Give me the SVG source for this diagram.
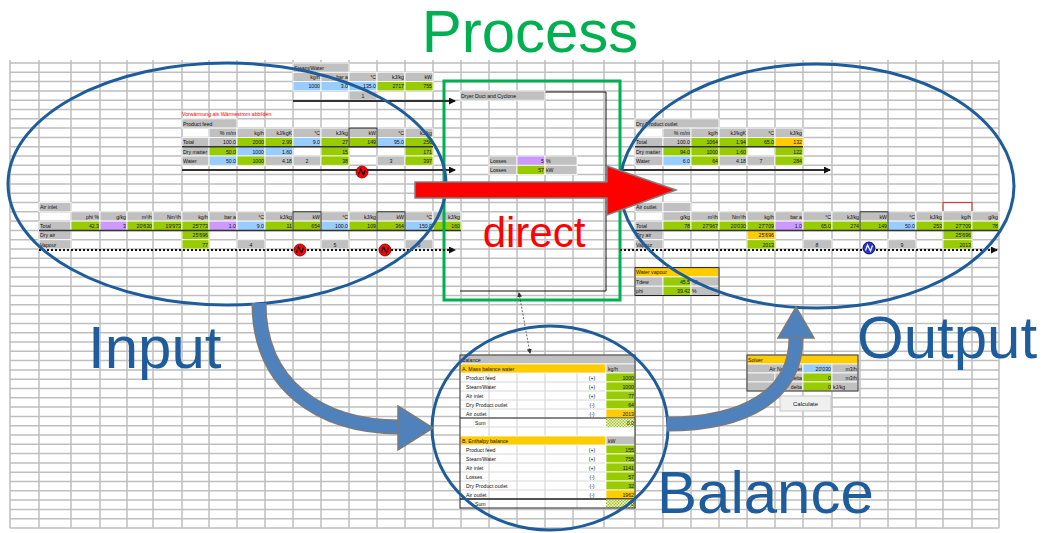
<svg xmlns="http://www.w3.org/2000/svg" xmlns:xlink="http://www.w3.org/1999/xlink" width="1048" height="533" viewBox="0 0 1048 533">
<style>
text{font-family:"Liberation Sans",Arial,sans-serif}
.t{font-size:5.2px;fill:#111}
.tr{font-size:5.2px;fill:#111;text-anchor:end}
.tc{font-size:5.2px;fill:#111;text-anchor:middle}
.red{fill:#ff0000}
rect.g{fill:#c0c0c0;stroke:#fff;stroke-width:.8}
rect.gr{fill:#99cc00;stroke:#fff;stroke-width:.8}
rect.bl{fill:#99ccff;stroke:#fff;stroke-width:.8}
rect.pu{fill:#cc99ff;stroke:#fff;stroke-width:.8}
rect.or{fill:#ffcc00;stroke:#fff;stroke-width:.8}
rect.w{fill:#fff;stroke:none}
.bd{fill:none;stroke:#222;stroke-width:1}
.thick{stroke:#333;stroke-width:1.5;fill:none}
.flow{stroke:#333;stroke-width:2;fill:none;marker-end:url(#ah)}
.dots{stroke:#111;stroke-width:1.8;stroke-dasharray:2 2;fill:none;marker-end:url(#ah)}
.grid{stroke:#bfbfbf;stroke-width:1.5;fill:none}
.ell{fill:none;stroke:#1f5c9c;stroke-width:3}
.lbl{font-size:60px;fill:#1f5c9c}
.shaft-o{fill:none;stroke:#7a7a7a;stroke-width:15}
.shaft{fill:none;stroke:#4f81bd;stroke-width:12}
.head{fill:#4f81bd;stroke:#7a7a7a;stroke-width:1.5}
</style>
<defs>
<marker id="ah" markerUnits="userSpaceOnUse" markerWidth="7" markerHeight="7" refX="6" refY="3.5" orient="auto"><path d="M0,0 L7,3.5 L0,7 z" fill="#111"/></marker>
<marker id="sa" markerUnits="userSpaceOnUse" markerWidth="5" markerHeight="5" refX="4" refY="2.5" orient="auto-start-reverse"><path d="M0,0 L5,2.5 L0,5 z" fill="#333"/></marker>
<g id="heat-r"><circle r="6" fill="#ff0000" stroke="#700" stroke-width=".8"/><path d="M-3.5,2.5 L-1.5,-3 L1.5,3 L3.5,-2.5" stroke="#000" stroke-width="1.2" fill="none"/></g>
<g id="heat-b"><circle r="6" fill="#2233dd" stroke="#001" stroke-width=".8"/><path d="M-3.5,2.5 L-1.5,-3 L1.5,3 L3.5,-2.5" stroke="#fff" stroke-width="1.2" fill="none"/></g>
<pattern id="hatch" width="3" height="3" patternUnits="userSpaceOnUse"><rect width="3" height="3" fill="#99cc00"/><rect width="1.5" height="1.5" fill="#fff"/><rect x="1.5" y="1.5" width="1.5" height="1.5" fill="#fff"/></pattern>
</defs>
<rect width="1048" height="533" fill="#fff"/>

<g id="grid">
<path class="grid" d="M10 60V528M39 60V528M71 60V528M100 60V528M127 60V528M153 60V528M182 60V528M209 60V528M237 60V528M265 60V528M293 60V528M321 60V528M349 60V528M377 60V528M405 60V528M433 60V528M461 60V528M489 60V528M517 60V528M545 60V528M573 60V528M604 60V528M635 60V528M663 60V528M691 60V528M719 60V528M747 60V528M775 60V528M803 60V528M832 60V528M860 60V528M888 60V528M916 60V528M943 60V528M972 60V528M999 60V528"/>
<path class="grid" d="M10 63H999M10 72.3H999M10 81.6H999M10 90.9H999M10 100.2H999M10 109.5H999M10 118.8H999M10 128.1H999M10 137.4H999M10 146.7H999M10 156H999M10 165.3H999M10 174.6H999M10 183.9H999M10 193.2H999M10 202.5H999M10 211.8H999M10 221.1H999M10 230.4H999M10 239.7H999M10 249H999M10 258.3H999M10 267.6H999M10 276.9H999M10 286.2H999M10 295.5H999M10 304.8H999M10 314.1H999M10 323.4H999M10 332.7H999M10 342H999M10 351.3H999M10 360.6H999M10 369.9H999M10 379.2H999M10 388.5H999M10 397.8H999M10 407.1H999M10 416.4H999M10 425.7H999M10 435H999M10 444.3H999M10 453.6H999M10 462.9H999M10 472.2H999M10 481.5H999M10 490.8H999M10 500.1H999M10 509.4H999M10 518.7H999M10 528H999"/>
</g>

<g id="steam-water">
<rect class="g" x="293" y="63" width="56" height="9.3"/><text class="t" x="294" y="69.8">Steam/Water</text>
<rect class="g" x="293" y="72.3" width="28" height="9.3"/><text class="tr" x="320" y="79.1">kg/h</text>
<rect class="g" x="321" y="72.3" width="28" height="9.3"/><text class="tr" x="348" y="79.1">bar a</text>
<rect class="g" x="349" y="72.3" width="28" height="9.3"/><text class="tr" x="376" y="79.1">°C</text>
<rect class="g" x="377" y="72.3" width="28" height="9.3"/><text class="tr" x="404" y="79.1">kJ/kg</text>
<rect class="g" x="405" y="72.3" width="28" height="9.3"/><text class="tr" x="432" y="79.1">kW</text>
<rect class="bl" x="293" y="81.6" width="28" height="9.3"/><text class="tr" x="320" y="88.4">1000</text>
<rect class="bl" x="321" y="81.6" width="28" height="9.3"/><text class="tr" x="348" y="88.4">3.0</text>
<rect class="bl" x="349" y="81.6" width="28" height="9.3"/><text class="tr" x="376" y="88.4">135.0</text>
<rect class="gr" x="377" y="81.6" width="28" height="9.3"/><text class="tr" x="404" y="88.4">2717</text>
<rect class="gr" x="405" y="81.6" width="28" height="9.3"/><text class="tr" x="432" y="88.4">755</text>
<rect class="g" x="349" y="90.9" width="28" height="9.3"/><text class="tc" x="363" y="97.7">1</text>
</g>

<g id="product-feed">
<text class="t red" x="182" y="116">Vorwärmung als Wärmestrom abbilden</text>
<rect class="g" x="182" y="118.8" width="55" height="9.3"/><text class="t" x="183" y="125.6">Product feed</text>
<rect class="g" x="209" y="128.1" width="28" height="9.3"/><text class="tr" x="236" y="134.9">% m/m</text>
<rect class="g" x="237" y="128.1" width="28" height="9.3"/><text class="tr" x="264" y="134.9">kg/h</text>
<rect class="g" x="265" y="128.1" width="28" height="9.3"/><text class="tr" x="292" y="134.9">kJ/kgK</text>
<rect class="g" x="293" y="128.1" width="28" height="9.3"/><text class="tr" x="320" y="134.9">°C</text>
<rect class="g" x="321" y="128.1" width="28" height="9.3"/><text class="tr" x="348" y="134.9">kJ/kg</text>
<rect class="g" x="349" y="128.1" width="28" height="9.3"/><text class="tr" x="376" y="134.9">kW</text>
<rect class="g" x="377" y="128.1" width="28" height="9.3"/><text class="tr" x="404" y="134.9">°C</text>
<rect class="g" x="405" y="128.1" width="28" height="9.3"/><text class="tr" x="432" y="134.9">kJ/kg</text>
<rect class="g" x="182" y="137.4" width="27" height="9.3"/><text class="t" x="183" y="144.2">Total</text>
<rect class="g" x="209" y="137.4" width="28" height="9.3"/><text class="tr" x="236" y="144.2">100.0</text>
<rect class="gr" x="237" y="137.4" width="28" height="9.3"/><text class="tr" x="264" y="144.2">2000</text>
<rect class="gr" x="265" y="137.4" width="28" height="9.3"/><text class="tr" x="292" y="144.2">2.99</text>
<rect class="bl" x="293" y="137.4" width="28" height="9.3"/><text class="tr" x="320" y="144.2">9.0</text>
<rect class="gr" x="321" y="137.4" width="28" height="9.3"/><text class="tr" x="348" y="144.2">27</text>
<rect class="gr" x="349" y="137.4" width="28" height="9.3"/><text class="tr" x="376" y="144.2">149</text>
<rect class="bl" x="377" y="137.4" width="28" height="9.3"/><text class="tr" x="404" y="144.2">95.0</text>
<rect class="gr" x="405" y="137.4" width="28" height="9.3"/><text class="tr" x="432" y="144.2">256</text>
<rect class="g" x="182" y="146.7" width="27" height="9.3"/><text class="t" x="183" y="153.5">Dry matter</text>
<rect class="gr" x="209" y="146.7" width="28" height="9.3"/><text class="tr" x="236" y="153.5">50.0</text>
<rect class="bl" x="237" y="146.7" width="28" height="9.3"/><text class="tr" x="264" y="153.5">1000</text>
<rect class="bl" x="265" y="146.7" width="28" height="9.3"/><text class="tr" x="292" y="153.5">1.60</text>
<rect class="gr" x="321" y="146.7" width="28" height="9.3"/><text class="tr" x="348" y="153.5">15</text>
<rect class="gr" x="405" y="146.7" width="28" height="9.3"/><text class="tr" x="432" y="153.5">171</text>
<rect class="g" x="182" y="156" width="27" height="9.3"/><text class="t" x="183" y="162.8">Water</text>
<rect class="bl" x="209" y="156" width="28" height="9.3"/><text class="tr" x="236" y="162.8">50.0</text>
<rect class="gr" x="237" y="156" width="28" height="9.3"/><text class="tr" x="264" y="162.8">1000</text>
<rect class="g" x="265" y="156" width="28" height="9.3"/><text class="tr" x="292" y="162.8">4.18</text>
<rect class="g" x="293" y="156" width="28" height="9.3"/><text class="tc" x="307" y="162.8">2</text>
<rect class="gr" x="321" y="156" width="28" height="9.3"/><text class="tr" x="348" y="162.8">38</text>
<rect class="g" x="377" y="156" width="28" height="9.3"/><text class="tc" x="391" y="162.8">3</text>
<rect class="gr" x="405" y="156" width="28" height="9.3"/><text class="tr" x="432" y="162.8">397</text>
<rect class="bd" x="349" y="128.1" width="28" height="18.6"/>
<path class="thick" d="M182 146.7H433"/>
</g>

<g id="air-inlet">
<rect class="g" x="39" y="202.5" width="32" height="9.3"/><text class="t" x="40" y="209.3">Air inlet</text>
<rect class="g" x="71" y="211.8" width="29" height="9.3"/><text class="tr" x="99" y="218.6">phi %</text>
<rect class="g" x="100" y="211.8" width="27" height="9.3"/><text class="tr" x="126" y="218.6">g/kg</text>
<rect class="g" x="127" y="211.8" width="26" height="9.3"/><text class="tr" x="152" y="218.6">m³/h</text>
<rect class="g" x="153" y="211.8" width="29" height="9.3"/><text class="tr" x="181" y="218.6">Nm³/h</text>
<rect class="g" x="182" y="211.8" width="27" height="9.3"/><text class="tr" x="208" y="218.6">kg/h</text>
<rect class="g" x="209" y="211.8" width="28" height="9.3"/><text class="tr" x="236" y="218.6">bar a</text>
<rect class="g" x="237" y="211.8" width="28" height="9.3"/><text class="tr" x="264" y="218.6">°C</text>
<rect class="g" x="265" y="211.8" width="28" height="9.3"/><text class="tr" x="292" y="218.6">kJ/kg</text>
<rect class="g" x="293" y="211.8" width="28" height="9.3"/><text class="tr" x="320" y="218.6">kW</text>
<rect class="g" x="321" y="211.8" width="28" height="9.3"/><text class="tr" x="348" y="218.6">°C</text>
<rect class="g" x="349" y="211.8" width="28" height="9.3"/><text class="tr" x="376" y="218.6">kJ/kg</text>
<rect class="g" x="377" y="211.8" width="28" height="9.3"/><text class="tr" x="404" y="218.6">kW</text>
<rect class="g" x="405" y="211.8" width="28" height="9.3"/><text class="tr" x="432" y="218.6">°C</text>
<rect class="g" x="433" y="211.8" width="28" height="9.3"/><text class="tr" x="460" y="218.6">kJ/kg</text>
<rect class="g" x="39" y="221.1" width="32" height="9.3"/><text class="t" x="40" y="227.9">Total</text>
<rect class="gr" x="71" y="221.1" width="29" height="9.3"/><text class="tr" x="99" y="227.9">42.3</text>
<rect class="pu" x="100" y="221.1" width="27" height="9.3"/><text class="tr" x="126" y="227.9">3</text>
<rect class="gr" x="127" y="221.1" width="26" height="9.3"/><text class="tr" x="152" y="227.9">20'630</text>
<rect class="gr" x="153" y="221.1" width="29" height="9.3"/><text class="tr" x="181" y="227.9">19'973</text>
<rect class="gr" x="182" y="221.1" width="27" height="9.3"/><text class="tr" x="208" y="227.9">25'773</text>
<rect class="pu" x="209" y="221.1" width="28" height="9.3"/><text class="tr" x="236" y="227.9">1.0</text>
<rect class="bl" x="237" y="221.1" width="28" height="9.3"/><text class="tr" x="264" y="227.9">9.0</text>
<rect class="gr" x="265" y="221.1" width="28" height="9.3"/><text class="tr" x="292" y="227.9">11</text>
<rect class="gr" x="293" y="221.1" width="28" height="9.3"/><text class="tr" x="320" y="227.9">654</text>
<rect class="bl" x="321" y="221.1" width="28" height="9.3"/><text class="tr" x="348" y="227.9">100.0</text>
<rect class="gr" x="349" y="221.1" width="28" height="9.3"/><text class="tr" x="376" y="227.9">109</text>
<rect class="gr" x="377" y="221.1" width="28" height="9.3"/><text class="tr" x="404" y="227.9">364</text>
<rect class="bl" x="405" y="221.1" width="28" height="9.3"/><text class="tr" x="432" y="227.9">150.0</text>
<rect class="gr" x="433" y="221.1" width="28" height="9.3"/><text class="tr" x="460" y="227.9">160</text>
<rect class="g" x="39" y="230.4" width="32" height="9.3"/><text class="t" x="40" y="237.2">Dry air</text>
<rect class="gr" x="182" y="230.4" width="27" height="9.3"/><text class="tr" x="208" y="237.2">25'696</text>
<rect class="g" x="39" y="239.7" width="32" height="9.3"/><text class="t" x="40" y="246.5">Vapour</text>
<rect class="gr" x="182" y="239.7" width="27" height="9.3"/><text class="tr" x="208" y="246.5">77</text>
<rect class="g" x="237" y="239.7" width="28" height="9.3"/><text class="tc" x="251" y="246.5">4</text>
<rect class="g" x="321" y="239.7" width="28" height="9.3"/><text class="tc" x="335" y="246.5">5</text>
<rect class="g" x="405" y="239.7" width="28" height="9.3"/><text class="tc" x="419" y="246.5">6</text>
<rect class="bd" x="293" y="211.8" width="28" height="18.6"/>
<rect class="bd" x="377" y="211.8" width="28" height="18.6"/>
<path class="thick" d="M39 230.4H461"/>
</g>

<g id="dry-product-outlet">
<rect class="g" x="635" y="118.8" width="84" height="9.3"/><text class="t" x="636" y="125.6">Dry Product outlet</text>
<rect class="g" x="663" y="128.1" width="28" height="9.3"/><text class="tr" x="690" y="134.9">% m/m</text>
<rect class="g" x="691" y="128.1" width="28" height="9.3"/><text class="tr" x="718" y="134.9">kg/h</text>
<rect class="g" x="719" y="128.1" width="28" height="9.3"/><text class="tr" x="746" y="134.9">kJ/kgK</text>
<rect class="g" x="747" y="128.1" width="28" height="9.3"/><text class="tr" x="774" y="134.9">°C</text>
<rect class="g" x="775" y="128.1" width="28" height="9.3"/><text class="tr" x="802" y="134.9">kJ/kg</text>
<rect class="g" x="635" y="137.4" width="28" height="9.3"/><text class="t" x="636" y="144.2">Total</text>
<rect class="g" x="663" y="137.4" width="28" height="9.3"/><text class="tr" x="690" y="144.2">100.0</text>
<rect class="gr" x="691" y="137.4" width="28" height="9.3"/><text class="tr" x="718" y="144.2">1064</text>
<rect class="gr" x="719" y="137.4" width="28" height="9.3"/><text class="tr" x="746" y="144.2">1.94</text>
<rect class="gr" x="747" y="137.4" width="28" height="9.3"/><text class="tr" x="774" y="144.2">65.0</text>
<rect class="or" x="775" y="137.4" width="28" height="9.3"/><text class="tr" x="802" y="144.2">132</text>
<rect class="g" x="635" y="146.7" width="28" height="9.3"/><text class="t" x="636" y="153.5">Dry matter</text>
<rect class="gr" x="663" y="146.7" width="28" height="9.3"/><text class="tr" x="690" y="153.5">94.0</text>
<rect class="gr" x="691" y="146.7" width="28" height="9.3"/><text class="tr" x="718" y="153.5">1000</text>
<rect class="gr" x="719" y="146.7" width="28" height="9.3"/><text class="tr" x="746" y="153.5">1.60</text>
<rect class="gr" x="775" y="146.7" width="28" height="9.3"/><text class="tr" x="802" y="153.5">122</text>
<rect class="g" x="635" y="156" width="28" height="9.3"/><text class="t" x="636" y="162.8">Water</text>
<rect class="bl" x="663" y="156" width="28" height="9.3"/><text class="tr" x="690" y="162.8">6.0</text>
<rect class="gr" x="691" y="156" width="28" height="9.3"/><text class="tr" x="718" y="162.8">64</text>
<rect class="g" x="719" y="156" width="28" height="9.3"/><text class="tr" x="746" y="162.8">4.18</text>
<rect class="g" x="747" y="156" width="28" height="9.3"/><text class="tc" x="761" y="162.8">7</text>
<rect class="gr" x="775" y="156" width="28" height="9.3"/><text class="tr" x="802" y="162.8">284</text>
<path class="thick" d="M635 146.7H803"/>
</g>

<g id="air-outlet">
<rect class="g" x="635" y="202.5" width="28" height="9.3"/><text class="t" x="636" y="209.3">Air outlet</text>
<rect class="g" x="663" y="202.5" width="28" height="9.3"/>
<rect x="943" y="202.5" width="29" height="9.3" fill="none" stroke="#e03030" stroke-width="1"/>
<rect class="g" x="663" y="211.8" width="28" height="9.3"/><text class="tr" x="690" y="218.6">g/kg</text>
<rect class="g" x="691" y="211.8" width="28" height="9.3"/><text class="tr" x="718" y="218.6">m³/h</text>
<rect class="g" x="719" y="211.8" width="28" height="9.3"/><text class="tr" x="746" y="218.6">Nm³/h</text>
<rect class="g" x="747" y="211.8" width="28" height="9.3"/><text class="tr" x="774" y="218.6">kg/h</text>
<rect class="g" x="775" y="211.8" width="28" height="9.3"/><text class="tr" x="802" y="218.6">bar a</text>
<rect class="g" x="803" y="211.8" width="29" height="9.3"/><text class="tr" x="831" y="218.6">°C</text>
<rect class="g" x="832" y="211.8" width="28" height="9.3"/><text class="tr" x="859" y="218.6">kJ/kg</text>
<rect class="g" x="860" y="211.8" width="28" height="9.3"/><text class="tr" x="887" y="218.6">kW</text>
<rect class="g" x="888" y="211.8" width="28" height="9.3"/><text class="tr" x="915" y="218.6">°C</text>
<rect class="g" x="916" y="211.8" width="27" height="9.3"/><text class="tr" x="942" y="218.6">kJ/kg</text>
<rect class="g" x="943" y="211.8" width="29" height="9.3"/><text class="tr" x="971" y="218.6">kg/h</text>
<rect class="g" x="972" y="211.8" width="27" height="9.3"/><text class="tr" x="998" y="218.6">g/kg</text>
<rect class="g" x="635" y="221.1" width="28" height="9.3"/><text class="t" x="636" y="227.9">Total</text>
<rect class="gr" x="663" y="221.1" width="28" height="9.3"/><text class="tr" x="690" y="227.9">78</text>
<rect class="gr" x="691" y="221.1" width="28" height="9.3"/><text class="tr" x="718" y="227.9">27'967</text>
<rect class="gr" x="719" y="221.1" width="28" height="9.3"/><text class="tr" x="746" y="227.9">20'030</text>
<rect class="gr" x="747" y="221.1" width="28" height="9.3"/><text class="tr" x="774" y="227.9">27'709</text>
<rect class="pu" x="775" y="221.1" width="28" height="9.3"/><text class="tr" x="802" y="227.9">1.0</text>
<rect class="gr" x="803" y="221.1" width="29" height="9.3"/><text class="tr" x="831" y="227.9">65.0</text>
<rect class="gr" x="832" y="221.1" width="28" height="9.3"/><text class="tr" x="859" y="227.9">274</text>
<rect class="gr" x="860" y="221.1" width="28" height="9.3"/><text class="tr" x="887" y="227.9">149</text>
<rect class="bl" x="888" y="221.1" width="28" height="9.3"/><text class="tr" x="915" y="227.9">50.0</text>
<rect class="gr" x="916" y="221.1" width="27" height="9.3"/><text class="tr" x="942" y="227.9">253</text>
<rect class="gr" x="943" y="221.1" width="29" height="9.3"/><text class="tr" x="971" y="227.9">27'709</text>
<rect class="gr" x="972" y="221.1" width="27" height="9.3"/><text class="tr" x="998" y="227.9">78</text>
<rect class="g" x="635" y="230.4" width="28" height="9.3"/><text class="t" x="636" y="237.2">Dry air</text>
<rect class="or" x="747" y="230.4" width="28" height="9.3"/><text class="tr" x="774" y="237.2">25'696</text>
<rect class="gr" x="943" y="230.4" width="29" height="9.3"/><text class="tr" x="971" y="237.2">25'696</text>
<rect class="g" x="635" y="239.7" width="28" height="9.3"/><text class="t" x="636" y="246.5">Vapour</text>
<rect class="gr" x="747" y="239.7" width="28" height="9.3"/><text class="tr" x="774" y="246.5">2013</text>
<rect class="g" x="803" y="239.7" width="29" height="9.3"/><text class="tc" x="817" y="246.5">8</text>
<rect class="g" x="888" y="239.7" width="28" height="9.3"/><text class="tc" x="902" y="246.5">9</text>
<rect class="gr" x="943" y="239.7" width="29" height="9.3"/><text class="tr" x="971" y="246.5">2013</text>
<rect class="bd" x="860" y="211.8" width="28" height="18.6"/>
<path class="thick" d="M635 230.4H999"/>
</g>

<g id="water-vapour">
<rect class="or" x="635" y="267.6" width="84" height="9.3"/><text class="t" x="636" y="274.4">Water vapour</text>
<rect class="g" x="635" y="276.9" width="28" height="9.3"/><text class="t" x="636" y="283.7">Tdew</text>
<rect class="gr" x="663" y="276.9" width="28" height="9.3"/><text class="tr" x="690" y="283.7">45.5</text>
<rect class="g" x="691" y="276.9" width="28" height="9.3"/><text class="t" x="692" y="283.7">°C</text>
<rect class="g" x="635" y="286.2" width="28" height="9.3"/><text class="t" x="636" y="293">phi</text>
<rect class="gr" x="663" y="286.2" width="28" height="9.3"/><text class="tr" x="690" y="293">39.42</text>
<rect class="g" x="691" y="286.2" width="28" height="9.3"/><text class="t" x="692" y="293">%</text>
<rect class="bd" x="635" y="267.6" width="84" height="27.9"/>
</g>

<g id="process">
<rect x="444" y="81" width="176" height="219" fill="none" stroke="#00b050" stroke-width="3"/>
<path d="M460 92H606V291H460" fill="none" stroke="#111" stroke-width="1"/>
<rect class="g" x="460" y="90.9" width="85" height="9.3"/><text class="t" x="461" y="97.7">Dryer Duct and Cyclone</text>
<rect class="g" x="489" y="156" width="28" height="9.3"/><text class="t" x="490" y="162.8">Losses</text>
<rect class="pu" x="517" y="156" width="28" height="9.3"/><text class="tr" x="544" y="162.8">5</text>
<rect class="g" x="545" y="156" width="32" height="9.3"/><text class="t" x="546" y="162.8">%</text>
<rect class="g" x="489" y="165.3" width="28" height="9.3"/><text class="t" x="490" y="172.1">Losses</text>
<rect class="gr" x="517" y="165.3" width="28" height="9.3"/><text class="tr" x="544" y="172.1">57</text>
<rect class="g" x="545" y="165.3" width="32" height="9.3"/><text class="t" x="546" y="172.1">kW</text>
</g>

<g id="balance-table">
<rect x="460" y="355" width="175" height="153" fill="#fff"/>
<path d="M489 364V508M517 364V508M545 364V508M577 364V508" stroke="#d0d0d0" stroke-width="1" fill="none"/>
<path d="M460 382H606M460 391H606M460 400H606M460 409H606M460 418H606M460 427H635M460 454H606M460 463H606M460 472H606M460 481H606M460 490H606M460 499H606" stroke="#d8d8d8" stroke-width="1" fill="none"/>
<rect class="g" x="460" y="355" width="175" height="9"/><text class="t" x="462" y="361.6">Balance</text>
<rect class="or" x="460" y="364" width="146" height="9"/><text class="t" x="462" y="370.6">A. Mass balance water</text>
<rect class="g" x="606" y="364" width="29" height="9"/><text class="t" x="608" y="370.6">kg/h</text>
<text class="t" x="466" y="379.6">Product feed</text><text class="tc" x="592" y="379.6">(+)</text><rect class="gr" x="606" y="373" width="29" height="9"/><text class="tr" x="634" y="379.6">1000</text>
<text class="t" x="466" y="388.6">Steam/Water</text><text class="tc" x="592" y="388.6">(+)</text><rect class="gr" x="606" y="382" width="29" height="9"/><text class="tr" x="634" y="388.6">1000</text>
<text class="t" x="466" y="397.6">Air inlet</text><text class="tc" x="592" y="397.6">(+)</text><rect class="gr" x="606" y="391" width="29" height="9"/><text class="tr" x="634" y="397.6">77</text>
<text class="t" x="466" y="406.6">Dry Product outlet</text><text class="tc" x="592" y="406.6">(-)</text><rect class="gr" x="606" y="400" width="29" height="9"/><text class="tr" x="634" y="406.6">64</text>
<text class="t" x="466" y="415.6">Air outlet</text><text class="tc" x="592" y="415.6">(-)</text><rect class="or" x="606" y="409" width="29" height="9"/><text class="tr" x="634" y="415.6">2013</text>
<path d="M460 418H635" stroke="#222" stroke-width="1"/>
<text class="t" x="475" y="424.6">Sum</text><rect x="606" y="418.5" width="29" height="8.5" fill="url(#hatch)"/><text class="tr" x="634" y="424.6">0.0</text>
<rect class="or" x="460" y="436" width="146" height="9"/><text class="t" x="462" y="442.6">B. Enthalpy balance</text>
<rect class="g" x="606" y="436" width="29" height="9"/><text class="t" x="608" y="442.6">kW</text>
<text class="t" x="466" y="451.6">Product feed</text><text class="tc" x="592" y="451.6">(+)</text><rect class="gr" x="606" y="445" width="29" height="9"/><text class="tr" x="634" y="451.6">155</text>
<text class="t" x="466" y="460.6">Steam/Water</text><text class="tc" x="592" y="460.6">(+)</text><rect class="gr" x="606" y="454" width="29" height="9"/><text class="tr" x="634" y="460.6">755</text>
<text class="t" x="466" y="469.6">Air inlet</text><text class="tc" x="592" y="469.6">(+)</text><rect class="gr" x="606" y="463" width="29" height="9"/><text class="tr" x="634" y="469.6">1141</text>
<text class="t" x="466" y="478.6">Losses</text><text class="tc" x="592" y="478.6">(-)</text><rect class="gr" x="606" y="472" width="29" height="9"/><text class="tr" x="634" y="478.6">57</text>
<text class="t" x="466" y="487.6">Dry Product outlet</text><text class="tc" x="592" y="487.6">(-)</text><rect class="gr" x="606" y="481" width="29" height="9"/><text class="tr" x="634" y="487.6">32</text>
<text class="t" x="466" y="496.6">Air outlet</text><text class="tc" x="592" y="496.6">(-)</text><rect class="or" x="606" y="490" width="29" height="9"/><text class="tr" x="634" y="496.6">1962</text>
<path d="M460 499H635" stroke="#222" stroke-width="1.5"/>
<text class="t" x="475" y="505.6">Sum</text><rect x="606" y="499.5" width="29" height="8.5" fill="url(#hatch)"/><text class="tr" x="634" y="505.6">0</text>
<rect class="bd" x="460" y="355" width="175" height="153"/>
</g>

<g id="solver">
<rect x="747" y="355" width="111" height="36" fill="#fff"/>
<rect class="or" x="747" y="355" width="111" height="9"/><text class="t" x="748" y="361.6">Solver</text>
<rect class="g" x="747" y="364" width="56" height="9"/><text class="tr" x="802" y="370.6">Air Nm³/h inlet</text>
<rect class="bl" x="803" y="364" width="29" height="9"/><text class="tr" x="831" y="370.6">20'030</text>
<rect class="g" x="832" y="364" width="26" height="9"/><text class="tr" x="857" y="370.6">m3/h</text>
<rect class="g" x="747" y="373" width="28" height="9"/><rect class="g" x="775" y="373" width="28" height="9"/><text class="tr" x="802" y="379.6">delta</text>
<rect class="gr" x="803" y="373" width="29" height="9"/><text class="tr" x="831" y="379.6">0</text>
<rect class="g" x="832" y="373" width="26" height="9"/><text class="tr" x="857" y="379.6">m3/h</text>
<rect class="g" x="747" y="382" width="28" height="9"/><rect class="g" x="775" y="382" width="28" height="9"/><text class="tr" x="802" y="388.6">delta</text>
<rect class="gr" x="803" y="382" width="29" height="9"/><text class="tr" x="831" y="388.6">0</text>
<rect class="g" x="832" y="382" width="26" height="9"/><text class="t" x="833" y="388.6">kJ/kg</text>
<rect class="bd" x="747" y="355" width="111" height="36"/>
<rect x="780" y="396" width="51" height="15" fill="#f0f0f0" stroke="#c8c8c8" stroke-width="1"/>
<text class="tc" x="805.5" y="405.5" style="font-size:6px">Calculate</text>
</g>

<g id="connectors">
<path class="flow" d="M293 101H455"/>
<path class="flow" d="M182 170H455"/>
<path class="dots" d="M39 250H455"/>
<path class="flow" d="M620 170H830"/>
<path class="dots" d="M620 250H997"/>
<path d="M519 293L530 353" stroke="#444" stroke-width=".8" stroke-dasharray="2 1.5" fill="none" marker-start="url(#sa)" marker-end="url(#sa)"/>
<use href="#heat-r" x="362" y="172"/>
<use href="#heat-r" x="300" y="250"/>
<use href="#heat-r" x="385" y="250"/>
<use href="#heat-b" x="869" y="248"/>
</g>

<g id="input-node"><ellipse class="ell" cx="227" cy="184" rx="219" ry="121"/></g>
<g id="output-node"><ellipse class="ell" cx="817" cy="186" rx="197" ry="122"/></g>
<g id="balance-node"><ellipse class="ell" cx="550" cy="428" rx="118" ry="102"/></g>

<g id="flow-arrows">
<path class="shaft-o" d="M259 303C259 385 320 427 400 427"/>
<path class="shaft" d="M259 303C259 385 320 427 400 427"/>
<polygon class="head" points="398,406 433,428 398,450"/>
<path class="shaft-o" d="M667 424C745 424 796 395 796 338"/>
<path class="shaft" d="M667 424C745 424 796 395 796 338"/>
<polygon class="head" points="778,338 796,307 814,338"/>
<polygon points="415,182 607,182 607,166 676,190 607,215 607,198 415,198" fill="#ff0000" stroke="#7f7f7f" stroke-width="1.5"/>
</g>

<g id="labels">
<text x="530" y="52" text-anchor="middle" style="font-size:60px;fill:#00b050">Process</text>
<text x="534" y="247" text-anchor="middle" style="font-size:42px;fill:#ff0000">direct</text>
<text class="lbl" x="88" y="368">Input</text>
<text class="lbl" x="857" y="358">Output</text>
<text class="lbl" x="657" y="513">Balance</text>
</g>
</svg>
